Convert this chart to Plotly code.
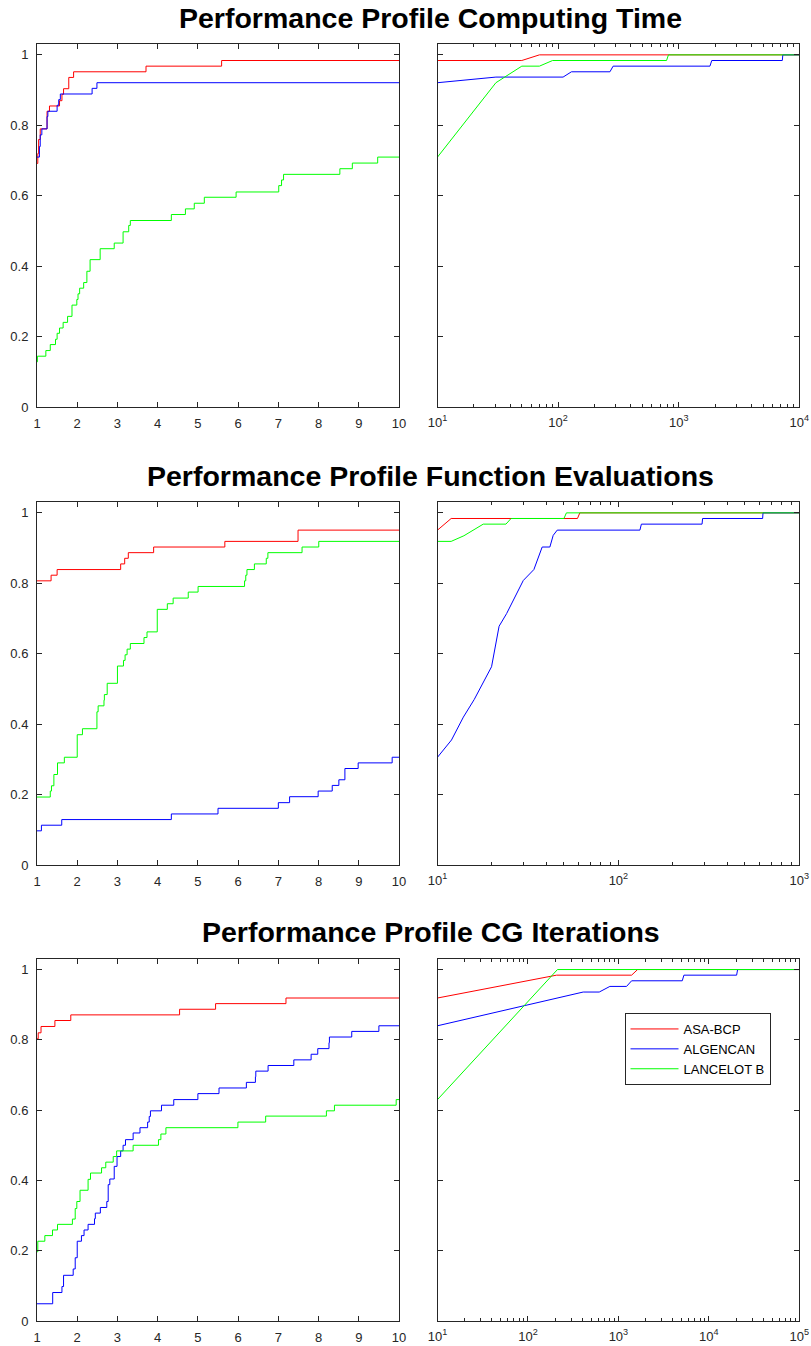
import plotly.graph_objects as go

# ---------------- DATA ----------------
series_names = ["ASA-BCP", "ALGENCAN", "LANCELOT B"]
series_colors = ["#FF0000", "#0000FF", "#00FF00"]
titles = ["Performance Profile Computing Time",
          "Performance Profile Function Evaluations",
          "Performance Profile CG Iterations"]

# Panel 1: computing time, tau in [1,10]
ct_red_tau = [1, 1.02, 1.04, 1.08, 1.25, 1.31, 1.56, 1.62, 1.66, 1.79, 1.91, 3.71, 5.59, 10]
ct_red_rho = [0.692, 0.72, 0.76, 0.79, 0.84, 0.855, 0.87, 0.888, 0.904, 0.936, 0.952, 0.968, 0.984, 0.984]
ct_blue_tau = [1, 1.06, 1.08, 1.12, 1.25, 1.27, 1.50, 1.54, 1.58, 2.37, 2.49, 10]
ct_blue_rho = [0.71, 0.74, 0.773, 0.79, 0.825, 0.84, 0.857, 0.873, 0.889, 0.905, 0.921, 0.921]
ct_green_tau = [1, 1.01, 1.22, 1.33, 1.46, 1.50, 1.56, 1.65, 1.76, 1.87, 1.99, 2.02, 2.06, 2.16, 2.24,
                2.32, 2.57, 2.92, 3.14, 3.28, 3.32, 4.34, 4.69, 4.91, 5.16, 5.95, 7.01, 7.08, 7.13,
                8.53, 8.84, 9.47, 10]
ct_green_rho = [0.129, 0.145, 0.161, 0.178, 0.193, 0.21, 0.225, 0.241, 0.258, 0.29, 0.306, 0.322, 0.338,
                0.354, 0.386, 0.419, 0.45, 0.466, 0.498, 0.516, 0.530, 0.547, 0.563, 0.579, 0.596,
                0.611, 0.629, 0.645, 0.661, 0.677, 0.693, 0.71, 0.71]
# Panel 1 tail: tau in [10,1e4]
ctl_red_tau = [10, 50, 70, 10000]
ctl_red_rho = [0.984, 0.984, 1.0, 1.0]
ctl_blue_tau = [10, 30.5, 110, 129, 269, 286, 1816, 1880, 7230, 7300, 10000]
ctl_blue_rho = [0.921, 0.937, 0.937, 0.952, 0.952, 0.968, 0.968, 0.984, 0.984, 1.0, 1.0]
ctl_green_tau = [10, 30.5, 50, 70, 90, 793, 822, 10000]
ctl_green_rho = [0.71, 0.921, 0.968, 0.968, 0.984, 0.984, 1.0, 1.0]

# Panel 2: function evaluations
fe_red_tau = [1, 1.35, 1.50, 3.08, 3.18, 3.27, 3.90, 5.67, 7.49, 10]
fe_red_rho = [0.807, 0.823, 0.839, 0.855, 0.871, 0.887, 0.903, 0.919, 0.951, 0.951]
fe_blue_tau = [1, 1.11, 1.615, 4.34, 5.50, 7.0, 7.28, 7.99, 8.34, 8.505, 8.655, 8.985, 9.83, 10]
fe_blue_rho = [0.097, 0.113, 0.129, 0.145, 0.161, 0.177, 0.194, 0.21, 0.226, 0.242, 0.274, 0.29, 0.306, 0.306]
fe_green_tau = [1, 1.33, 1.36, 1.42, 1.51, 1.68, 2.0, 2.13, 2.49, 2.52, 2.665, 2.675, 2.745, 3.0, 3.15,
                3.19, 3.24, 3.32, 3.66, 3.735, 3.99, 4.24, 4.385, 4.76, 5.005, 6.16, 6.19, 6.22, 6.405,
                6.70, 6.74, 7.59, 8.005, 10]
fe_green_rho = [0.193, 0.21, 0.225, 0.257, 0.29, 0.306, 0.37, 0.387, 0.435, 0.452, 0.468, 0.484, 0.516,
                0.565, 0.581, 0.597, 0.613, 0.629, 0.646, 0.662, 0.726, 0.742, 0.758, 0.775, 0.791,
                0.807, 0.823, 0.839, 0.855, 0.871, 0.887, 0.903, 0.919, 0.919]
fel_red_tau = [10, 11.9, 59.4, 61.2, 1000]
fel_red_rho = [0.951, 0.984, 0.984, 1.0, 1.0]
fel_blue_tau = [10, 11.95, 13.9, 15.96, 19.9, 21.9, 24.1, 29.8, 34.1, 37.9, 41.8, 43.6, 45.9, 131.5,
                134, 290, 292, 627, 630, 1000]
fel_blue_rho = [0.306, 0.355, 0.42, 0.47, 0.563, 0.678, 0.714, 0.808, 0.839, 0.903, 0.903, 0.936,
                0.951, 0.951, 0.968, 0.968, 0.984, 0.984, 1.0, 1.0]
fel_green_tau = [10, 11.9, 14, 17.9, 23.9, 25.5, 50, 51.6, 1000]
fel_green_rho = [0.919, 0.919, 0.935, 0.968, 0.968, 0.984, 0.984, 1.0, 1.0]

# Panel 3: CG iterations
cg_red_tau = [1, 1.03, 1.10, 1.445, 1.84, 4.545, 5.44, 7.19, 10]
cg_red_rho = [0.803, 0.82, 0.838, 0.855, 0.871, 0.887, 0.903, 0.919, 0.919]
cg_blue_tau = [1, 1.39, 1.62, 1.66, 1.90, 1.95, 2.0, 2.105, 2.17, 2.27, 2.43, 2.45, 2.575, 2.735, 2.77,
               2.81, 2.92, 2.99, 3.08, 3.14, 3.20, 3.39, 3.56, 3.75, 3.79, 3.82, 4.095, 4.40, 5.0,
               5.525, 6.205, 6.43, 6.44, 6.745, 7.385, 7.815, 7.98, 8.26, 8.27, 8.825, 9.50, 10]
cg_blue_rho = [0.049, 0.081, 0.098, 0.13, 0.148, 0.18, 0.227, 0.243, 0.259, 0.275, 0.291, 0.307, 0.323,
               0.34, 0.388, 0.404, 0.44, 0.468, 0.484, 0.5, 0.516, 0.535, 0.55, 0.566, 0.582, 0.598,
               0.614, 0.63, 0.647, 0.663, 0.679, 0.695, 0.711, 0.727, 0.743, 0.759, 0.775, 0.792,
               0.808, 0.824, 0.84, 0.84]
cg_green_tau = [1, 1.02, 1.195, 1.385, 1.51, 1.88, 1.95, 1.99, 2.07, 2.27, 2.33, 2.605, 2.71, 2.895,
                2.98, 3.39, 4.02, 4.08, 4.205, 5.995, 6.685, 8.195, 8.395, 9.93, 10]
cg_green_rho = [0.197, 0.227, 0.243, 0.259, 0.275, 0.29, 0.32, 0.34, 0.372, 0.403, 0.421, 0.436, 0.452,
                0.468, 0.484, 0.5, 0.516, 0.532, 0.55, 0.566, 0.583, 0.598, 0.614, 0.63, 0.63]
cgl_red_tau = [10, 207, 1400, 1630, 100000]
cgl_red_rho = [0.919, 0.984, 0.984, 1.0, 1.0]
cgl_blue_tau = [10, 408, 614, 805, 1231, 1400, 5080, 5300, 20280, 20800, 100000]
cgl_blue_rho = [0.84, 0.936, 0.936, 0.952, 0.952, 0.968, 0.968, 0.984, 0.984, 1.0, 1.0]
cgl_green_tau = [10, 212, 100000]
cgl_green_rho = [0.63, 1.0, 1.0]

left_xticks = [1, 2, 3, 4, 5, 6, 7, 8, 9, 10]
y_ticks = [0, 0.2, 0.4, 0.6, 0.8, 1]
y_ticktext = ["0", "0.2", "0.4", "0.6", "0.8", "1"]
right_decades = [4, 3, 5]  # upper exponent of the log tail axis per row

# ---------------- FIGURE ----------------
W, H = 811, 1346
AX = "#262626"
FONT = "Liberation Sans, Arial, Helvetica, sans-serif"
TICK_SIZE = 13

left_dom = [37 / W, 399 / W]
right_dom = [437.5 / W, 799.3 / W]
row_px = [(44.3, 407.3), (502.3, 865.0), (959.0, 1321.0)]
row_dom = [[1 - b / H, 1 - t / H] for t, b in row_px]
title_y_px = [18, 476, 932]

fig = go.Figure()

left_data = [
    [(ct_red_tau, ct_red_rho), (ct_blue_tau, ct_blue_rho), (ct_green_tau, ct_green_rho)],
    [(fe_red_tau, fe_red_rho), (fe_blue_tau, fe_blue_rho), (fe_green_tau, fe_green_rho)],
    [(cg_red_tau, cg_red_rho), (cg_blue_tau, cg_blue_rho), (cg_green_tau, cg_green_rho)],
]
right_data = [
    [(ctl_red_tau, ctl_red_rho), (ctl_blue_tau, ctl_blue_rho), (ctl_green_tau, ctl_green_rho)],
    [(fel_red_tau, fel_red_rho), (fel_blue_tau, fel_blue_rho), (fel_green_tau, fel_green_rho)],
    [(cgl_red_tau, cgl_red_rho), (cgl_blue_tau, cgl_blue_rho), (cgl_green_tau, cgl_green_rho)],
]

layout = dict(
    width=W, height=H, autosize=False,
    margin=dict(l=0, r=0, t=0, b=0, pad=0),
    paper_bgcolor="white", plot_bgcolor="white",
    showlegend=True,
    legend=dict(x=624.5 / W, y=1 - 1013 / H, xanchor="left", yanchor="top",
                bordercolor=AX, borderwidth=1, bgcolor="white",
                font=dict(family=FONT, size=13, color="black"),
                itemwidth=48, tracegroupgap=0),
    font=dict(family=FONT, size=TICK_SIZE, color=AX),
    annotations=[],
)

def axis_common():
    return dict(showline=True, linecolor=AX, linewidth=1, mirror="ticks",
                ticks="inside", ticklen=5, tickwidth=1, tickcolor=AX,
                showgrid=False, zeroline=False, automargin=False,
                tickfont=dict(family=FONT, size=TICK_SIZE, color=AX))

for r in range(3):
    li = 2 * r + 1
    ri = 2 * r + 2
    lx = "x" if li == 1 else f"x{li}"
    ly = "y" if li == 1 else f"y{li}"
    rx, ry = f"x{ri}", f"y{ri}"
    for k, (t, v) in enumerate(left_data[r]):
        fig.add_trace(go.Scatter(x=t, y=v, mode="lines", line=dict(color=series_colors[k], width=1, shape="hv"),
                                 name=series_names[k], showlegend=False, xaxis=lx, yaxis=ly,
                                 hoverinfo="skip"))
    for k, (t, v) in enumerate(right_data[r]):
        fig.add_trace(go.Scatter(x=t, y=v, mode="lines", line=dict(color=series_colors[k], width=1),
                                 name=series_names[k], showlegend=(r == 2), xaxis=rx, yaxis=ry,
                                 hoverinfo="skip"))
    xa = axis_common()
    xa.update(domain=left_dom, anchor=ly, range=[1, 10], tickvals=left_xticks,
              ticktext=[str(v) for v in left_xticks], ticklabelstandoff=4)
    ya = axis_common()
    ya.update(domain=row_dom[r], anchor=lx, range=[0, 1.03], tickvals=y_ticks, ticktext=y_ticktext,
              ticklabelstandoff=5)
    layout["xaxis" if li == 1 else f"xaxis{li}"] = xa
    layout["yaxis" if li == 1 else f"yaxis{li}"] = ya

    top = right_decades[r]
    major = [10 ** e for e in range(1, top + 1)]
    minor = [m * 10 ** e for e in range(1, top) for m in range(2, 10)]
    xr = axis_common()
    xr.update(domain=right_dom, anchor=ry, type="log", range=[1, top], tickvals=major,
              ticktext=[f"10<sup>{e}</sup>" for e in range(1, top + 1)], ticklabelstandoff=3,
              minor=dict(tickvals=minor, ticks="inside", ticklen=3, tickwidth=1, tickcolor=AX,
                         showgrid=False))
    yr = axis_common()
    yr.update(domain=row_dom[r], anchor=rx, range=[0, 1.03], tickvals=y_ticks, showticklabels=False)
    layout[f"xaxis{ri}"] = xr
    layout[f"yaxis{ri}"] = yr

    layout["annotations"].append(dict(
        text=f"<b>{titles[r]}</b>", x=431 / W, y=1 - title_y_px[r] / H, xref="paper", yref="paper",
        xanchor="center", yanchor="middle", showarrow=False,
        font=dict(family=FONT, size=28.5, color="black")))

fig.update_layout(**layout)
fig.write_html("out.html", config={"displayModeBar": False},
               post_script="document.body.style.margin='0';")
